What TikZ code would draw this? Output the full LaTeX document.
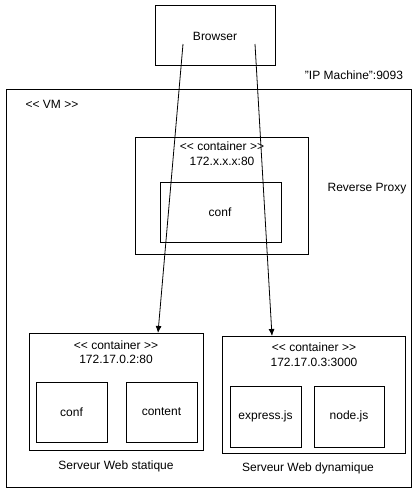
\documentclass[tikz,border=0pt]{standalone}
\usepackage{fontspec}
\setmainfont{Liberation Sans}
\usetikzlibrary{arrows.meta}
\begin{document}
\begin{tikzpicture}[x=1pt,y=-1pt,
  box/.style={draw=black,line width=1pt,fill=none},
  lbl/.style={font=\fontsize{12}{14}\selectfont,inner sep=0pt,align=center},
  arr/.style={draw=black,line width=0.8pt,-{Latex[length=7pt,width=6pt]}}]
\useasboundingbox (0,0) rectangle (417,490);
% boxes
\draw[box] (155,5) rectangle (275,65);
\node[lbl] (browser) at (215,36) {Browser};
\draw[box] (6,89) rectangle (411,487);
\node[lbl] (ipm) at (354,75) {\symbol{34}IP Machine\symbol{34}:9093};
\node[lbl] (vm) at (52,104) {<{}< VM >{}>};
% reverse proxy
\draw[box] (135,137) rectangle (308,254);
\node[lbl] (rpst) at (222,146) {<{}< container >{}>};
\node[lbl] (rpip) at (222,161) {172.x.x.x:80};
\draw[box] (160,182) rectangle (281,242);
\node[lbl] (rpconf) at (220,212) {conf};
\node[lbl] (rp) at (367,189) {Reverse Proxy};
% static
\node[box,minimum width=174pt,minimum height=117pt,inner sep=0pt] (stat) at (116,391.5) {};
\node[lbl] (stst) at (116,345) {<{}< container >{}>};
\node[lbl] (stip) at (116,359) {172.17.0.2:80};
\draw[box] (36,382) rectangle (107,442);
\node[lbl] (stconf) at (71.5,412) {conf};
\draw[box] (126,382) rectangle (197,442);
\node[lbl] (stcont) at (161.5,412) {content};
\node[lbl] (stlbl) at (116,466) {Serveur Web statique};
% dynamic
\node[box,minimum width=183pt,minimum height=117pt,inner sep=0pt] (dyn) at (313.5,394.5) {};
\node[lbl] (dyst) at (314,347) {<{}< container >{}>};
\node[lbl] (dyip) at (314,362) {172.17.0.3:3000};
\draw[box] (230,386) rectangle (301,447);
\node[lbl] (dyex) at (265.5,416) {express.js};
\draw[box] (314,386) rectangle (384,447);
\node[lbl] (dynode) at (349,416) {node.js};
\node[lbl] (dylbl) at (308,468) {Serveur Web dynamique};
% arrows
\coordinate (s1) at (183,44);
\coordinate (s2) at (255,44);
\coordinate (e1) at (158,333);
\coordinate (e2) at (272,336);
\draw[arr] (s1) -- (e1);
\draw[arr] (s2) -- (e2);
\end{tikzpicture}
\end{document}
